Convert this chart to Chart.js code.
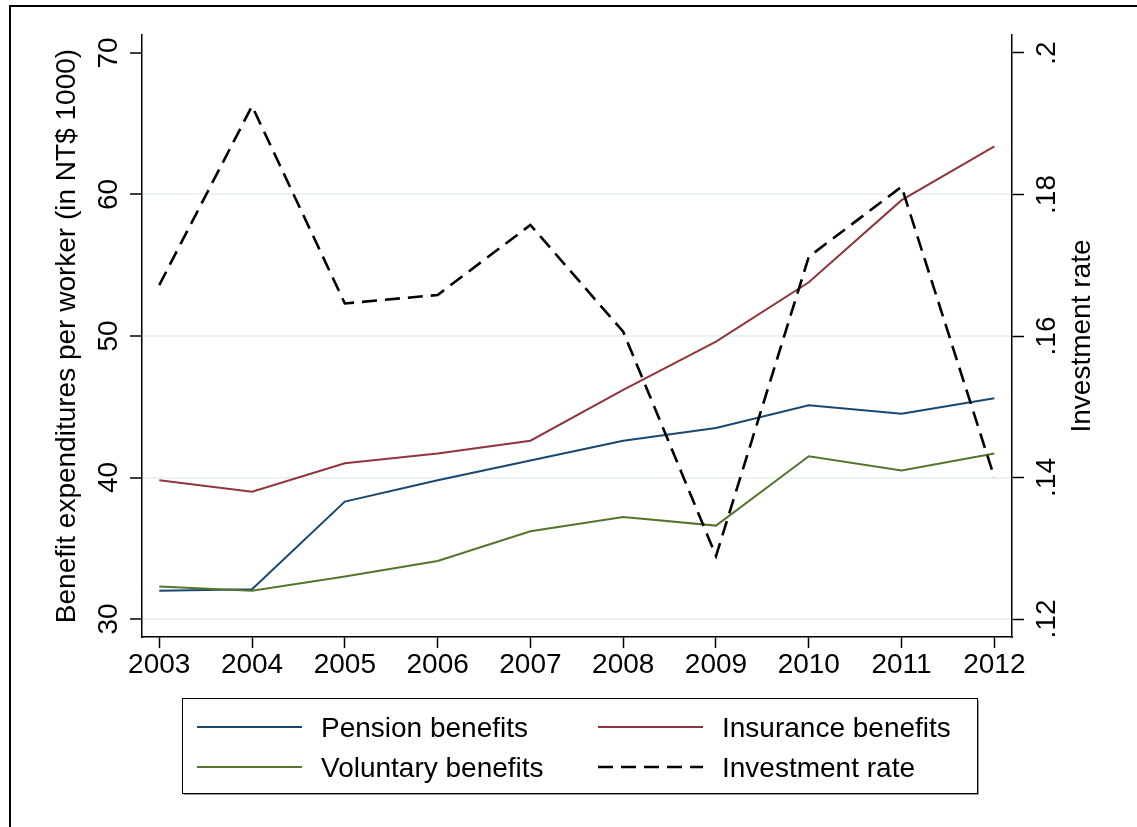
<!DOCTYPE html>
<html>
<head>
<meta charset="utf-8">
<script src="https://cdn.jsdelivr.net/npm/chart.js@4.4.0/dist/chart.umd.min.js"></script>
<style>
html, body { margin: 0; padding: 0; background: #fff; }
</style>
</head>
<body>
<canvas id="benefitChart" width="1137" height="827"></canvas>
<script>
// data
var years = [2003, 2004, 2005, 2006, 2007, 2008, 2009, 2010, 2011, 2012];
var pensionBenefits   = [32.0, 32.1, 38.3, 39.8, 41.2, 42.6, 43.5, 45.1, 44.5, 45.6];
var insuranceBenefits = [39.8, 39.0, 41.0, 41.7, 42.6, 46.2, 49.6, 53.8, 59.6, 63.4];
var voluntaryBenefits = [32.3, 32.0, 33.0, 34.1, 36.2, 37.2, 36.6, 41.5, 40.5, 41.7];
var investmentRate    = [0.1672, 0.1925, 0.1646, 0.1658, 0.1757, 0.1606, 0.1289, 0.1712, 0.1811, 0.1400];
var leftTicks = [30, 40, 50, 60, 70];
var rightTicks = [0.12, 0.14, 0.16, 0.18, 0.2];
var rightTickLabels = ['.12', '.14', '.16', '.18', '.2'];
var leftTitle = 'Benefit expenditures per worker (in NT$ 1000)';
var rightTitle = 'Investment rate';

var fontFamily = '"Liberation Sans", Arial, Helvetica, sans-serif';
var fontSize = 28;

function toPoints(values){
	return years.map(function(yr, i){ return {x: yr, y: values[i]}; });
}

// stata-like decorations: outer frame, rotated axis labels, boxed legend
var stataDecor = {
	id: 'stataDecor',
	beforeDraw: function(chart){
		var ctx = chart.ctx;
		ctx.save();
		ctx.fillStyle = '#fff';
		ctx.fillRect(0, 0, chart.width, chart.height);
		ctx.strokeStyle = '#000';
		ctx.lineWidth = 2;
		ctx.beginPath();
		ctx.moveTo(10, chart.height);
		ctx.lineTo(10, 6);
		ctx.lineTo(chart.width, 6);
		ctx.stroke();
		ctx.restore();
	},
	afterDraw: function(chart){
		var ctx = chart.ctx;
		var area = chart.chartArea;
		var yL = chart.scales.y, yR = chart.scales.y1;
		ctx.save();
		ctx.fillStyle = '#000';
		ctx.font = fontSize + 'px ' + fontFamily;
		ctx.textAlign = 'center';
		ctx.textBaseline = 'alphabetic';

		function vText(txt, x, y){
			ctx.save();
			ctx.translate(x, y);
			ctx.rotate(-Math.PI / 2);
			ctx.fillText(txt, 0, 0);
			ctx.restore();
		}
		leftTicks.forEach(function(v){ vText(String(v), 116.5, yL.getPixelForValue(v)); });
		rightTicks.forEach(function(v, i){ vText(rightTickLabels[i], 1055, yR.getPixelForValue(v)); });
		var midY = (area.top + area.bottom) / 2;
		vText(leftTitle, 75, midY);
		vText(rightTitle, 1090, midY);

		// legend
		var bx = 182, by = 698, bw = 795, bh = 95;
		ctx.fillStyle = '#9a9a9a';
		ctx.fillRect(bx + 2, by + 2, bw, bh);
		ctx.fillStyle = '#fff';
		ctx.fillRect(bx, by, bw, bh);
		ctx.strokeStyle = '#000';
		ctx.lineWidth = 1;
		ctx.strokeRect(bx + 0.5, by + 0.5, bw, bh);

		var cols = [197, 598];
		var rows = [727, 767];
		ctx.textAlign = 'left';
		chart.data.datasets.forEach(function(ds, i){
			var cx = cols[i % 2], cy = rows[Math.floor(i / 2)];
			ctx.save();
			ctx.strokeStyle = ds.borderColor;
			ctx.lineWidth = ds.borderWidth;
			ctx.setLineDash(ds.borderDash || []);
			ctx.beginPath();
			ctx.moveTo(cx, cy);
			ctx.lineTo(cx + 105, cy);
			ctx.stroke();
			ctx.restore();
			ctx.fillStyle = '#000';
			ctx.fillText(ds.label, cx + 124, cy + 9.5);
		});
		ctx.restore();
	}
};

var ctx = document.getElementById('benefitChart');
new Chart(ctx, {
	type: 'line',
	data: {
		datasets: [
			{label: 'Pension benefits', data: toPoints(pensionBenefits), borderColor: '#1a476f', borderWidth: 2, yAxisID: 'y', order: 3},
			{label: 'Insurance benefits', data: toPoints(insuranceBenefits), borderColor: '#90353b', borderWidth: 2, yAxisID: 'y', order: 2},
			{label: 'Voluntary benefits', data: toPoints(voluntaryBenefits), borderColor: '#55752f', borderWidth: 2, yAxisID: 'y', order: 1},
			{label: 'Investment rate', data: toPoints(investmentRate), borderColor: '#000', borderWidth: 2.6, borderDash: [15, 8], yAxisID: 'y1', order: 0}
		]
	},
	options: {
		responsive: false,
		animation: false,
		devicePixelRatio: 1,
		layout: {padding: {top: 35, left: 0, right: 0, bottom: 0}},
		elements: {point: {radius: 0}, line: {tension: 0, fill: false}},
		plugins: {legend: {display: false}, tooltip: {enabled: false}},
		scales: {
			x: {
				type: 'linear',
				min: 2002.814,
				max: 2012.19,
				afterBuildTicks: function(s){ s.ticks = years.map(function(v){ return {value: v}; }); },
				afterFit: function(s){ s.height = 190; },
				border: {display: true, color: '#000', width: 1.5},
				grid: {drawOnChartArea: false, tickLength: 11, tickColor: '#000', tickWidth: 1.5},
				ticks: {
					color: '#000', padding: 0, maxRotation: 0, autoSkip: false,
					font: {family: fontFamily, size: fontSize},
					callback: function(v){ return String(v); }
				}
			},
			y: {
				position: 'left',
				min: 28.728,
				max: 71.272,
				afterBuildTicks: function(s){ s.ticks = leftTicks.map(function(v){ return {value: v}; }); },
				afterFit: function(s){ s.width = 142; },
				border: {display: true, color: '#000', width: 1.5},
				grid: {
					color: function(c){ return (c.tick && c.tick.value === 70) ? 'rgba(0,0,0,0)' : '#eaf2f3'; },
					lineWidth: 2, tickLength: 12, tickColor: '#000', tickWidth: 1.5
				},
				ticks: {display: false}
			},
			y1: {
				position: 'right',
				min: 0.117456,
				max: 0.202544,
				afterBuildTicks: function(s){ s.ticks = rightTicks.map(function(v){ return {value: v}; }); },
				afterFit: function(s){ s.width = 125; },
				border: {display: true, color: '#000', width: 1.5},
				grid: {drawOnChartArea: false, tickLength: 12, tickColor: '#000', tickWidth: 1.5},
				ticks: {display: false}
			}
		}
	},
	plugins: [stataDecor]
});
</script>
</body>
</html>
